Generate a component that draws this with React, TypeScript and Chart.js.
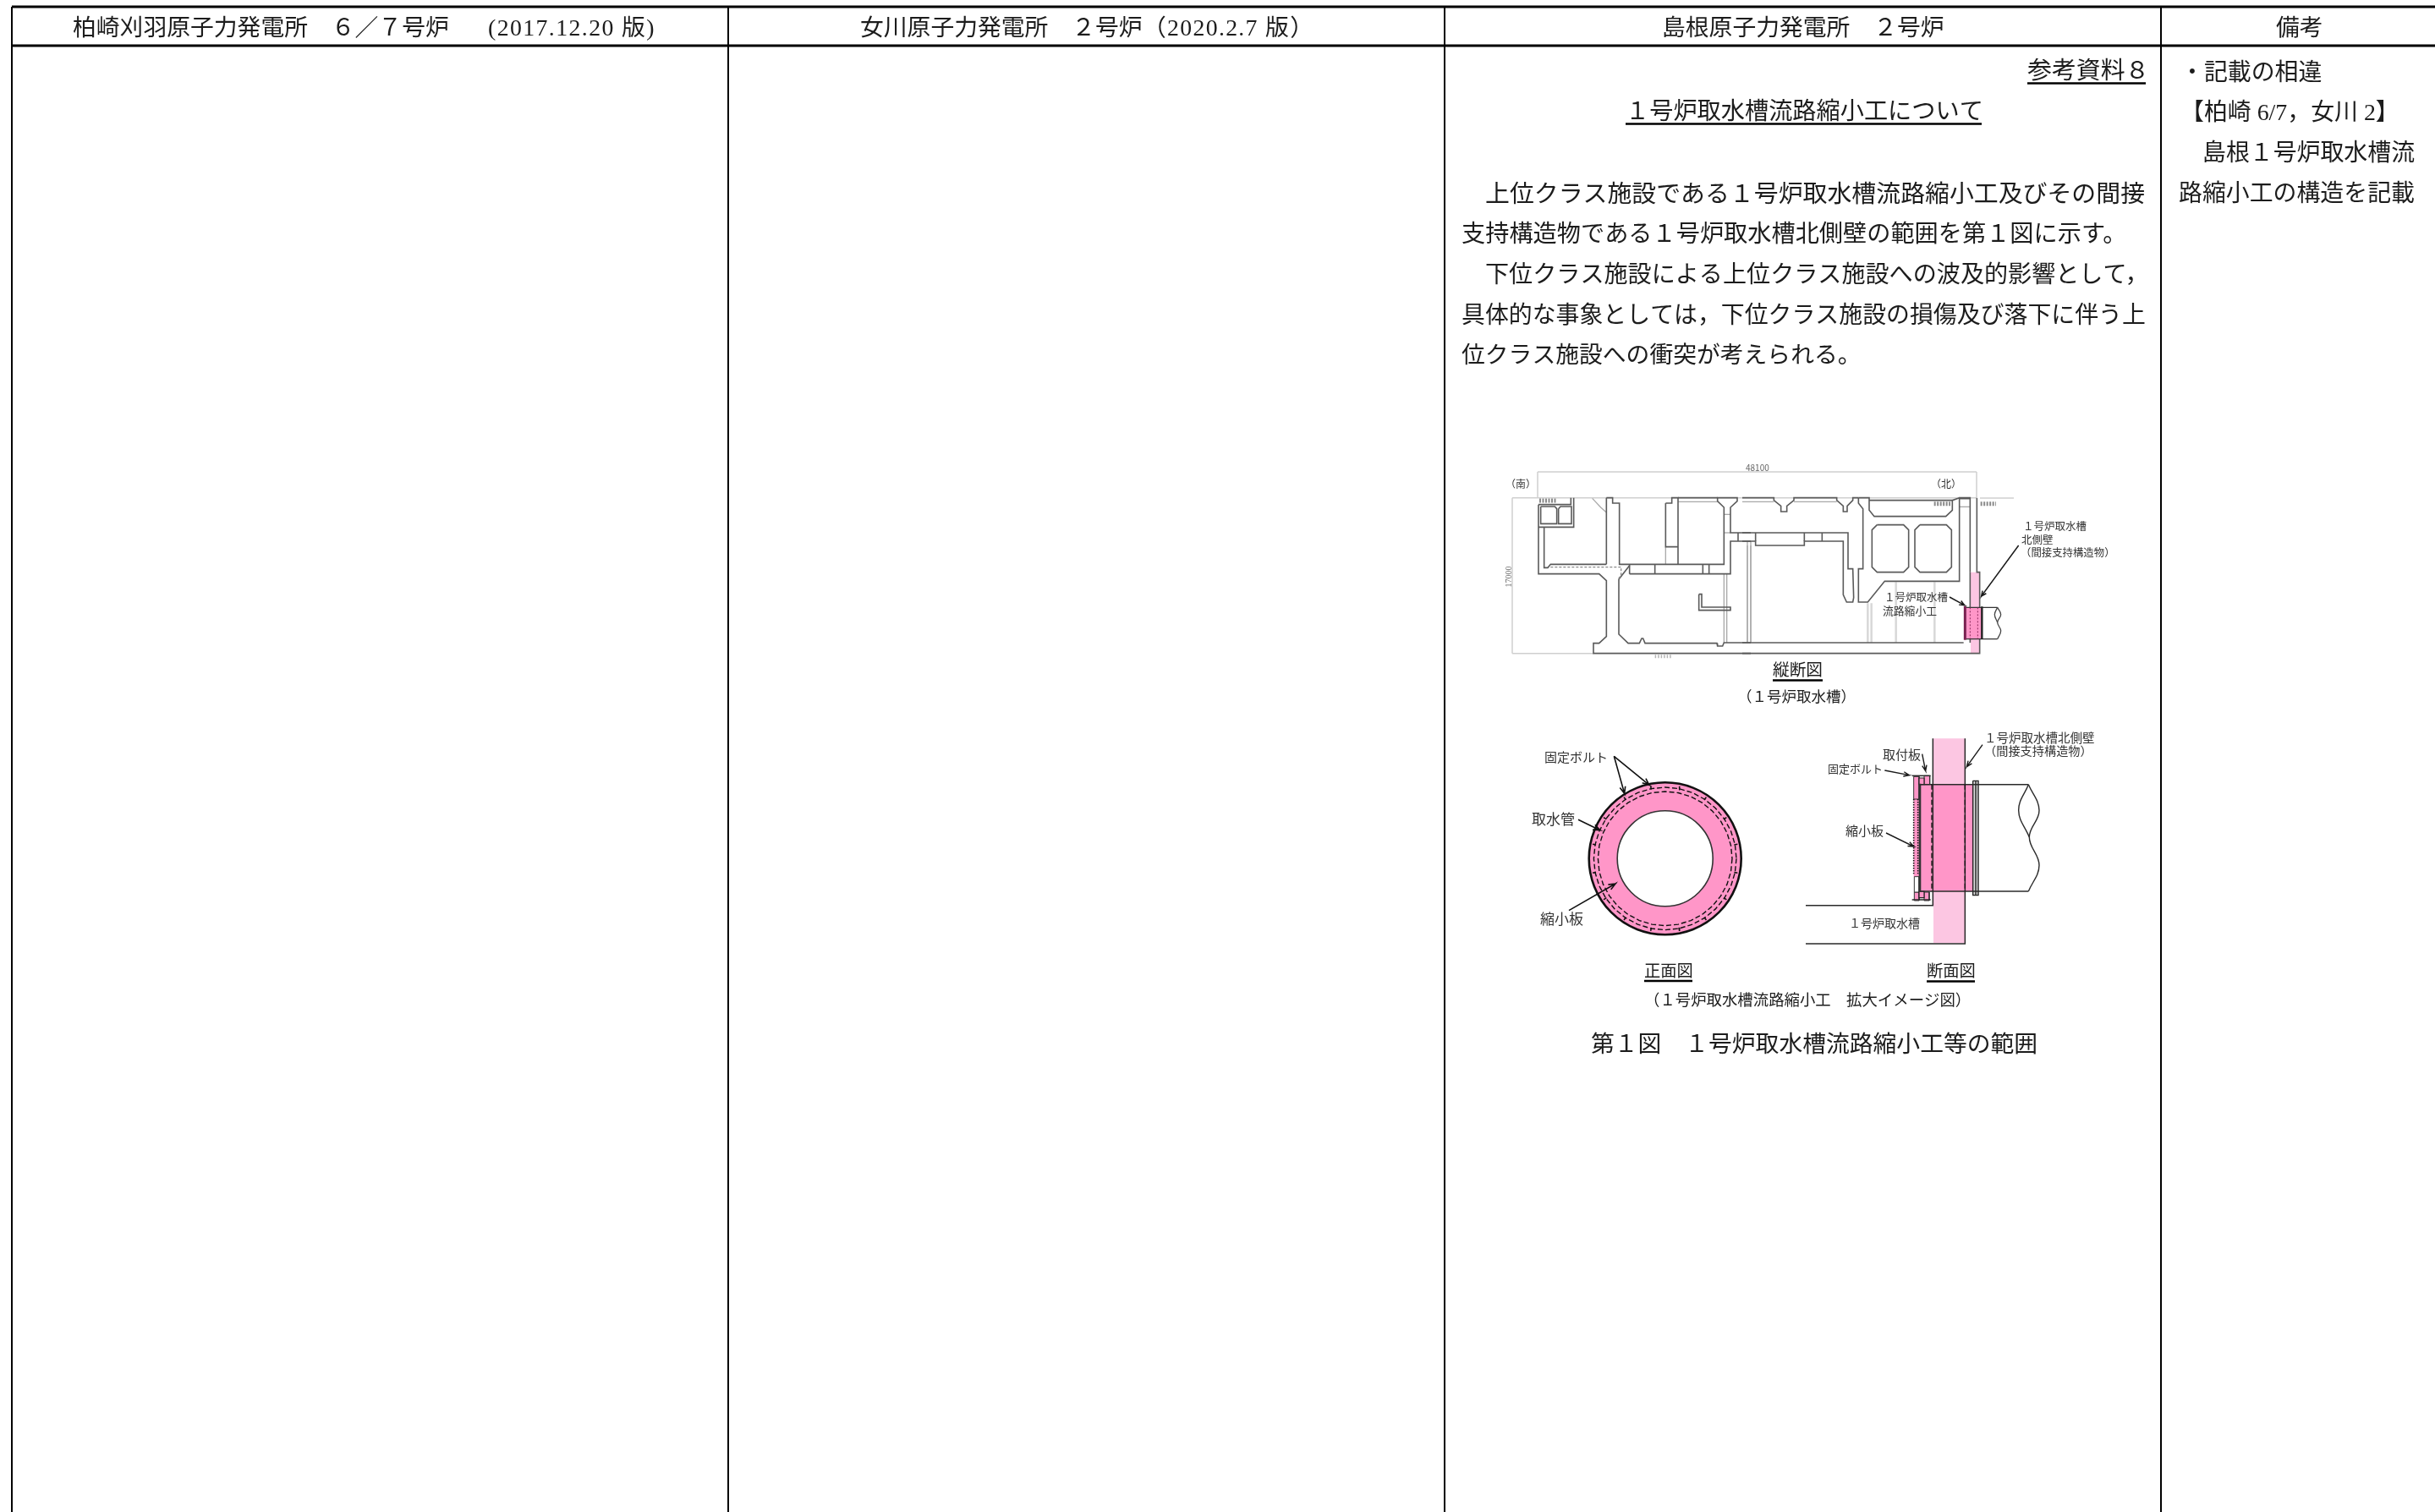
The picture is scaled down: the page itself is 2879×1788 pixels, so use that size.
import React, { useEffect, useRef } from "react";
import { Chart, registerables } from "chart.js";

Chart.register(...registerables);

const PAGE_W = 2879;
const PAGE_H = 1788;
const SERIF = '"Liberation Serif","Noto Sans CJK JP",serif';
const SANS = '"Noto Sans CJK JP",sans-serif';
const INK = "#1c1c1c";
const LINE = "#5a5a5a";
const SOFT = "#cfcfcf";
const PINK = "#ff96c8";
const PALE = "#fcc6e2";

type Pt = { x: number; y: number };
type T = [string, number, number, number?, string?, number?];

// table rules, in page units
const tableRows = [8, 54];
const tableColumns = [14, 861, 1708, 2555];

// text: string, x, y, size, colour, letter spacing
const headerTexts: T[] = [
  ["柏崎刈羽原子力発電所　６／７号炉", 86, 34.5],
  ["(2017.12.20 版)", 577, 34.5, 27.8, undefined, 1.4],
  ["女川原子力発電所　２号炉", 1017, 34.5],
  ["（2020.2.7 版）", 1351, 34.5, 27.8, undefined, 1.3],
  ["島根原子力発電所　２号炉", 1965, 34.5],
  ["備考", 2691, 34.5],
];
const bodyTexts: T[] = [
  ["参考資料８", 2397, 85.5, 28.9],
  ["１号炉取水槽流路縮小工について", 1922, 134, 28.2],
  ["上位クラス施設である１号炉取水槽流路縮小工及びその間接", 1756, 231, 28.9],
  ["支持構造物である１号炉取水槽北側壁の範囲を第１図に示す。", 1728, 279, 28.2],
  ["下位クラス施設による上位クラス施設への波及的影響として，", 1756, 327, 28.1],
  ["具体的な事象としては，下位クラス施設の損傷及び落下に伴う上", 1728, 375, 27.9],
  ["位クラス施設への衝突が考えられる。", 1728, 422, 27.8],
];
const remarkTexts: T[] = [
  ["・記載の相違", 2578, 87.5],
  ["【柏崎 6/7，女川 2】", 2578, 135],
  ["島根１号炉取水槽流", 2604, 183],
  ["路縮小工の構造を記載", 2576, 231],
];
const captionTexts: T[] = [
  ["縦断図", 2096, 793.5, 19.7],
  ["（１号炉取水槽）", 2054, 825, 17.5],
  ["正面図", 1944, 1149.5, 19.3],
  ["断面図", 2278, 1150, 19.3],
  ["（１号炉取水槽流路縮小工　拡大イメージ図）", 1944, 1184, 18.4],
  ["第１図　１号炉取水槽流路縮小工等の範囲", 1881, 1237, 27.8],
];
const figureTexts: T[] = [
  ["（南）", 1780, 572, 12],
  ["（北）", 2283, 572, 12],
  ["48100", 2064, 553, 10, "#666"],
  ["１号炉取水槽", 2392, 622, 12.5],
  ["北側壁", 2390, 638, 12.5],
  ["（間接支持構造物）", 2389, 653, 12.4],
  ["１号炉取水槽", 2228, 706, 12.5],
  ["流路縮小工", 2226, 722, 12.8],
  ["固定ボルト", 1826, 895.5, 15],
  ["取水管", 1811, 969, 17],
  ["縮小板", 1821, 1086.5, 17],
  ["１号炉取水槽北側壁", 2346, 872, 14.5],
  ["（間接支持構造物）", 2346, 888, 14.2],
  ["取付板", 2226, 892, 15],
  ["固定ボルト", 2161, 909, 13],
  ["縮小板", 2182, 982, 15],
  ["１号炉取水槽", 2186, 1092, 14],
];
const rotatedDimension = "17000";
const rotatedDimensionAt: Pt = { x: 1784, y: 682 };

// underlines: x0, x1, y
const underlines = [
  [2397, 2537, 98.5],
  [1922, 2343, 146.5],
  [2096, 2155, 804.5],
  [1944, 2001, 1160],
  [2278, 2335, 1160.5],
];

// drawing A, dark outlines; crop A is read at (1770,550), crop B at (2060,550)
const sectionCropA: number[][] = [
  [147, 140, 147, 386, 362, 386, 388, 410, 388, 608, 362, 632, 342, 632, 342, 668, 900, 668],
  [147, 140, 262, 140, 262, 116],
  [272, 116, 272, 220, 147, 220],
  [155, 147, 205, 147, 212, 155, 212, 208, 155, 208, 155, 147],
  [218, 155, 225, 147, 264, 147, 264, 208, 218, 208, 218, 155],
  [167, 220, 167, 364, 180, 364, 190, 352, 388, 352],
  [388, 116, 388, 352],
  [388, 116, 410, 116, 410, 135, 434, 135, 434, 352, 805, 352, 805, 150, 782, 128, 782, 116, 852, 116, 852, 128, 828, 150, 828, 240, 900, 240],
  [432, 405, 432, 600, 465, 632, 505, 632, 513, 615, 518, 615, 525, 632, 780, 632, 782, 642, 800, 642, 805, 630, 900, 630],
  [432, 405, 470, 356],
  [470, 352, 470, 386],
  [470, 386, 828, 386, 828, 270, 900, 270],
  [560, 352, 560, 386],
  [730, 352, 730, 386],
  [752, 352, 752, 386],
  [855, 240, 855, 270],
  [598, 135, 620, 135, 620, 116, 642, 116, 642, 352],
  [598, 135, 598, 290, 642, 290],
  [642, 116, 782, 116],
  [716, 458, 726, 458, 726, 504, 828, 504, 828, 515, 716, 515, 716, 458],
];
const sectionCropASoft: number[][] = [
  [338, 118, 368, 150, 388, 168],
  [598, 290, 598, 352],
  [642, 130, 782, 130],
  [805, 386, 805, 630],
  [815, 386, 815, 630],
  [888, 270, 888, 630],
  [900, 270, 900, 630],
  [805, 175, 828, 175],
  [805, 240, 828, 240],
];
const sectionCropADashed: number[][] = [
  [190, 362, 440, 362, 440, 390, 430, 405],
];
const sectionCropB: number[][] = [
  [0, 240, 375, 240, 375, 368, 392, 368, 395, 470, 392, 486, 370, 486, 358, 460, 358, 270, 220, 270, 220, 285, 47, 285, 47, 270, 0, 270],
  [47, 240, 47, 270],
  [220, 240, 220, 270],
  [283, 240, 283, 270],
  [0, 116, 112, 116, 112, 125, 137, 145, 137, 165, 158, 165, 158, 145, 183, 125, 183, 116, 335, 116, 335, 125, 358, 145, 358, 165, 372, 165, 372, 145, 392, 125, 392, 116, 412, 116],
  [412, 116, 412, 135, 428, 155, 428, 368, 412, 368, 412, 486, 445, 486, 505, 412, 770, 412, 770, 116, 808, 116, 808, 380],
  [412, 116, 450, 116, 450, 160, 468, 182, 722, 182, 745, 160, 745, 125, 770, 116],
  [450, 125, 745, 125],
  [478, 212, 572, 212, 590, 230, 590, 362, 572, 380, 478, 380, 460, 362, 460, 230, 478, 212],
  [630, 212, 724, 212, 742, 230, 742, 362, 724, 380, 630, 380, 612, 362, 612, 230, 630, 212],
  [832, 116, 832, 380, 842, 380, 842, 668, 0, 668],
  [0, 630, 785, 630],
  [808, 630, 808, 380],
  [770, 119, 808, 119],
];
const sectionCropBSoft: number[][] = [
  [0, 130, 112, 130],
  [183, 130, 335, 130],
  [770, 148, 808, 148],
  [18, 285, 18, 630],
  [30, 285, 30, 630],
];
const sectionCropBBroad: number[][] = [
  [445, 490, 445, 630],
  [458, 490, 458, 630],
  [545, 415, 545, 630],
  [682, 415, 682, 630],
];
const hatchCropA: number[][] = [[150, 126, 212, 126]];
const hatchCropB: number[][] = [[680, 137, 738, 137], [845, 137, 900, 137]];
const hatchBottomCropA: number[][] = [[560, 679, 620, 679]];

// dimension lines in page units
const dimensionLines: number[][] = [
  [1818, 558, 2337, 558],
  [1818, 558, 1818, 588],
  [2337, 558, 2337, 588],
  [1818, 588.7, 2337, 588.7],
  [2341, 589, 2381, 589],
  [1788, 588.7, 1788, 772.7],
  [1788, 588.7, 1818, 588.7],
  [1788, 772.7, 1884, 772.7],
];

// intake detail; crop read at (2130,600)
const wallPaleCrop = [600, 230, 632, 230, 632, 518, 600, 518, 600, 230];
const plugPinkCrop = [583, 355, 640, 355, 640, 467, 583, 467, 583, 355];
const plugLinesCrop: number[][] = [
  [583, 355, 695, 355],
  [583, 467, 695, 467],
];
const plugDashedCrop: number[][] = [
  [598, 355, 598, 467],
  [625, 355, 625, 467],
];
const plugHeavyCrop: number[][] = [[640, 352, 640, 468]];
const plugEdgeCrop = [580, 350, 580, 470];
const pipeCurvesCrop: number[][] = [
  [695, 355, 685, 380, 695, 408],
  [695, 355, 707, 380, 695, 408, 707, 438, 695, 467],
];
// arrows: tail x, tail y, tip x, tip y
const sectionArrowsCrop: number[][] = [
  [770, 135, 638, 315],
  [525, 318, 578, 347],
];

// front view: read at (1800,860)
const ringCentre: Pt = { x: 1968.7, y: 1015.3 };
const ringOuterRadius = 90;
const ringInnerRadius = 56.5;
const ringDashRadii = [84.3, 79.3];
const quarterCircle = [
  [1, 0], [0.981, 0.195], [0.924, 0.383], [0.831, 0.556], [0.707, 0.707],
  [0.556, 0.831], [0.383, 0.924], [0.195, 0.981], [0, 1],
];
const boltOffsets = [
  [49, 245, 51, 257],
  [139, 208, 146, 218],
  [208, 139, 218, 146],
  [245, 49, 257, 51],
];
const frontArrowsCrop: number[][] = [
  [325, 103, 362, 235],
  [325, 103, 450, 205],
  [198, 328, 275, 365],
  [165, 650, 330, 555],
];

// cross section: read at (2120,860)
const sideWallPale = [498, 40, 610, 40, 610, 765, 498, 765, 498, 40];
const sidePlug = [450, 203, 640, 203, 640, 582, 450, 582, 450, 203];
const sidePlateTop = [428, 175, 447, 175, 447, 255, 428, 255, 428, 175];
const sidePlateMiddle = [428, 255, 447, 255, 447, 530, 428, 530, 428, 255];
const sidePlateLow = [430, 530, 447, 530, 447, 585, 430, 585, 430, 530];
const sidePlateFoot = [430, 585, 447, 585, 447, 615, 430, 615, 430, 585];
const sideBoltTop = [465, 172, 485, 172, 485, 203, 465, 203, 465, 172];
const sideBoltLow = [465, 585, 483, 585, 483, 615, 465, 615, 465, 585];
const sideBoltInner = [447, 582, 465, 582, 465, 605, 447, 605, 447, 582];
const sideBoltInnerTop = [447, 180, 465, 180, 465, 203, 447, 203, 447, 180];
const sideFlange = [638, 190, 657, 190, 657, 596, 638, 596, 638, 190];
const sideLines: number[][] = [
  [496, 40, 496, 632, 45, 632],
  [610, 40, 610, 768, 45, 768],
  [450, 203, 835, 203],
  [450, 582, 835, 582],
  [648, 190, 648, 596],
  [422, 172, 488, 172],
  [422, 612, 488, 612],
];
const sideDashed: number[][] = [
  [492, 203, 492, 582],
  [610, 203, 610, 582],
];
const sideDotted: number[][] = [
  [428, 255, 428, 520],
  [443, 255, 443, 520],
];
const sideHeavy = [450, 200, 450, 585];
const sideCurves: number[][] = [
  [835, 203, 800, 295, 838, 390],
  [835, 203, 873, 295, 838, 390, 873, 490, 835, 582],
];
const sideArrows: number[][] = [
  [458, 95, 470, 155],
  [325, 153, 412, 170],
  [330, 375, 428, 423],
  [672, 62, 616, 140],
];

const pts = (flat: number[], ox = 0, oy = 0, k = 1): Pt[] => {
  const out: Pt[] = [];
  for (let i = 0; i < flat.length; i += 2) out.push({ x: ox + flat[i] / k, y: oy + flat[i + 1] / k });
  return out;
};

const arrowFlat = ([tx, ty, x, y]: number[], head = 20, spread = 9): number[] => {
  const d = Math.hypot(x - tx, y - ty);
  const ux = (x - tx) / d;
  const uy = (y - ty) / d;
  const bx = x - ux * head;
  const by = y - uy * head;
  return [tx, ty, x, y, bx - uy * spread, by + ux * spread, x, y, bx + uy * spread, by - ux * spread];
};

const circlePoints = (c: Pt, r: number): Pt[] => {
  const q = quarterCircle.slice(0, 8);
  const all = [
    ...q.map(([a, b]) => [a, b]),
    ...q.map(([a, b]) => [-b, a]),
    ...q.map(([a, b]) => [-a, -b]),
    ...q.map(([a, b]) => [b, -a]),
    [1, 0],
  ];
  return all.map(([a, b]) => ({ x: c.x + a * r, y: c.y + b * r }));
};

function buildDatasets() {
  const ds: any[] = [];
  const stroke = (data: Pt[], color = LINE, width = 1.6, extra: any = {}) =>
    ds.push({ data, showLine: true, borderColor: color, borderWidth: width, pointRadius: 0, fill: false, clip: false, tension: 0, ...extra });
  const area = (data: Pt[], color: string, edge?: string, width = 0) =>
    ds.push({ data, showLine: true, borderColor: edge ?? color, borderWidth: width, pointRadius: 0, fill: "shape", backgroundColor: color, clip: false, tension: 0 });
  const dot = (c: Pt, radius: number, color: string, edge: string, width: number) =>
    ds.push({ data: [c], showLine: false, pointRadius: radius, pointBackgroundColor: color, pointBorderColor: edge, pointBorderWidth: width, clip: false });

  // table
  tableRows.forEach((y) => stroke([{ x: 14, y }, { x: PAGE_W, y }], "#000", 3));
  tableColumns.forEach((x) => stroke([{ x, y: 8 }, { x, y: PAGE_H }], "#000", 2));
  underlines.forEach(([a, b, y]) => stroke([{ x: a, y }, { x: b, y }], "#000", 2.5));

  // longitudinal section
  dimensionLines.forEach((l) => stroke(pts(l), SOFT, 1.5));
  hatchCropA.forEach((l) => stroke(pts(l, 1770, 550, 3), "#8a8a8a", 5, { borderDash: [2, 1.5] }));
  hatchCropB.forEach((l) => stroke(pts(l, 2060, 550, 3), "#8a8a8a", 5, { borderDash: [2, 1.5] }));
  hatchBottomCropA.forEach((l) => stroke(pts(l, 1770, 550, 3), "#b5b5b5", 4, { borderDash: [1.5, 2] }));
  sectionCropBBroad.forEach((l) => stroke(pts(l, 2060, 550, 3), "#d8d8d8", 2.5));
  sectionCropASoft.forEach((l) => stroke(pts(l, 1770, 550, 3), "#a8a8a8", 1.3));
  sectionCropBSoft.forEach((l) => stroke(pts(l, 2060, 550, 3), "#a8a8a8", 1.3));
  area(pts(wallPaleCrop, 2130, 600, 3), PALE);
  sectionCropA.forEach((l) => stroke(pts(l, 1770, 550, 3)));
  sectionCropB.forEach((l) => stroke(pts(l, 2060, 550, 3)));
  sectionCropADashed.forEach((l) => stroke(pts(l, 1770, 550, 3), "#8a8a8a", 1.3, { borderDash: [3, 2] }));
  area(pts(plugPinkCrop, 2130, 600, 3), PINK);
  plugLinesCrop.forEach((l) => stroke(pts(l, 2130, 600, 3), "#333", 1.3));
  plugDashedCrop.forEach((l) => stroke(pts(l, 2130, 600, 3), "#8a2a5c", 1, { borderDash: [2, 2] }));
  plugHeavyCrop.forEach((l) => stroke(pts(l, 2130, 600, 3), "#222", 2.4));
  stroke(pts(plugEdgeCrop, 2130, 600, 3), "#7a2050", 3);
  pipeCurvesCrop.forEach((l) => stroke(pts(l, 2130, 600, 3), "#444", 1.3, { tension: 0.4 }));
  sectionArrowsCrop.forEach((a) => stroke(pts(arrowFlat(a, 18, 8), 2130, 600, 3), "#1a1a1a", 1.5));

  // front view
  dot(ringCentre, ringOuterRadius, PINK, "#111", 2.6);
  dot(ringCentre, ringInnerRadius, "#ffffff", "#333", 1.6);
  ringDashRadii.forEach((r) => stroke(circlePoints(ringCentre, r), "#111", 1.4, { borderDash: [6, 3] }));
  [[1, 1], [1, -1], [-1, 1], [-1, -1]].forEach(([sx, sy]) =>
    boltOffsets.forEach(([a, b, c, d]) =>
      stroke(
        [
          { x: ringCentre.x + (sx * a) / 3, y: ringCentre.y + (sy * b) / 3 },
          { x: ringCentre.x + (sx * c) / 3, y: ringCentre.y + (sy * d) / 3 },
        ],
        "#111",
        1.6,
      ),
    ),
  );
  frontArrowsCrop.forEach((a) => stroke(pts(arrowFlat(a, 24, 10), 1800, 860, 3), "#111", 1.6));

  // cross section
  area(pts(sideWallPale, 2120, 860, 3), PALE);
  area(pts(sidePlug, 2120, 860, 3), PINK);
  area(pts(sidePlateMiddle, 2120, 860, 3), PINK);
  area(pts(sidePlateFoot, 2120, 860, 3), PINK, "#333", 1);
  area(pts(sidePlateTop, 2120, 860, 3), PINK, "#333", 1);
  area(pts(sidePlateLow, 2120, 860, 3), "#ffffff", "#333", 1);
  area(pts(sideBoltTop, 2120, 860, 3), PINK, "#333", 1);
  area(pts(sideBoltLow, 2120, 860, 3), PINK, "#333", 1);
  area(pts(sideBoltInner, 2120, 860, 3), PINK, "#222", 1.2);
  area(pts(sideBoltInnerTop, 2120, 860, 3), PINK, "#222", 1.2);
  area(pts(sideFlange, 2120, 860, 3), "#d9d9d9", "#222", 1.4);
  sideLines.forEach((l) => stroke(pts(l, 2120, 860, 3), "#2a2a2a", 1.5));
  sideDashed.forEach((l) => stroke(pts(l, 2120, 860, 3), "#111", 1.3, { borderDash: [6, 3] }));
  sideDotted.forEach((l) => stroke(pts(l, 2120, 860, 3), "#111", 1.6, { borderDash: [1.5, 1.5] }));
  stroke(pts(sideHeavy, 2120, 860, 3), "#333", 2.6);
  sideCurves.forEach((l) => stroke(pts(l, 2120, 860, 3), "#2a2a2a", 1.4, { tension: 0.4 }));
  sideArrows.forEach((a) => stroke(pts(arrowFlat(a, 20, 8), 2120, 860, 3), "#1a1a1a", 1.4));

  // first dataset is painted last by Chart.js: reverse so list order is paint order
  return ds.reverse();
}

const textPlugin = {
  id: "pageText",
  afterDatasetsDraw(chart: any) {
    const { ctx, scales } = chart;
    const put = (items: T[], family: string, size: number, color: string) => {
      items.forEach(([s, x, y, sz, c, gap]) => {
        ctx.font = `${sz ?? size}px ${family}`;
        ctx.fillStyle = c ?? color;
        ctx.textBaseline = "middle";
        ctx.textAlign = "left";
        ctx.letterSpacing = `${gap ?? 0}px`;
        ctx.fillText(s, scales.x.getPixelForValue(x), scales.y.getPixelForValue(y));
      });
      ctx.letterSpacing = "0px";
    };
    ctx.save();
    put(headerTexts, SERIF, 27.8, INK);
    put(bodyTexts, SERIF, 28.9, INK);
    put(remarkTexts, SERIF, 27.9, INK);
    put(captionTexts, SERIF, 19, INK);
    put(figureTexts, SANS, 13, "#333");
    ctx.translate(scales.x.getPixelForValue(rotatedDimensionAt.x), scales.y.getPixelForValue(rotatedDimensionAt.y));
    ctx.rotate(-Math.PI / 2);
    ctx.font = `10px ${SERIF}`;
    ctx.fillStyle = "#666";
    ctx.textAlign = "center";
    ctx.textBaseline = "middle";
    ctx.fillText(rotatedDimension, 0, 0);
    ctx.restore();
  },
};

export default function App() {
  const ref = useRef<HTMLCanvasElement>(null);
  useEffect(() => {
    const chart = new Chart(ref.current!, {
      type: "scatter",
      data: { datasets: buildDatasets() },
      options: {
        animation: false,
        responsive: false,
        events: [],
        layout: { padding: 0, autoPadding: false },
        plugins: { legend: { display: false }, tooltip: { enabled: false }, title: { display: false } },
        scales: {
          x: { type: "linear", min: 0, max: PAGE_W, display: false },
          y: { type: "linear", min: 0, max: PAGE_H, reverse: true, display: false },
        },
      },
      plugins: [textPlugin],
    } as any);
    return () => chart.destroy();
  }, []);
  return (
    <div style={{ position: "absolute", left: 0, top: 0, width: PAGE_W, height: PAGE_H, background: "#fff" }}>
      <canvas ref={ref} width={PAGE_W} height={PAGE_H} style={{ display: "block" }} />
    </div>
  );
}
